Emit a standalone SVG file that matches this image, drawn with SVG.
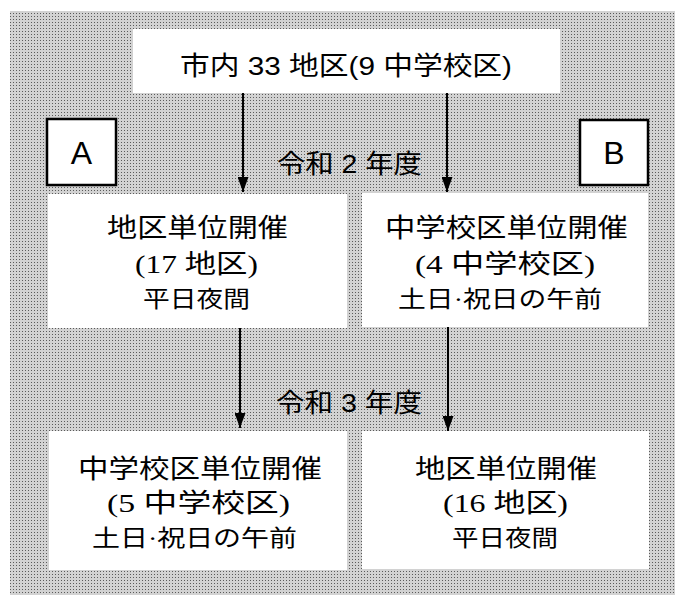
<svg xmlns="http://www.w3.org/2000/svg" width="682" height="603" viewBox="0 0 682 603">
  <style>
    .box { fill: #ffffff; }
    .tag { fill: #ffffff; stroke: #000000; stroke-width: 2.5; }
    .conn { stroke: #000000; stroke-width: 2; fill: none; }
    .t { font-family: "Liberation Sans", "Noto Sans CJK JP", sans-serif; font-size: 26px; fill: #000000; }
    .b1 { font-family: "Liberation Serif", "Noto Sans CJK JP", serif; font-size: 26px; fill: #000000; }
    .b3 { font-family: "Liberation Serif", "Noto Sans CJK JP", serif; font-size: 23px; fill: #000000; }
    .tagt { font-family: "Liberation Sans", Arial, sans-serif; font-size: 32px; fill: #000000; text-anchor: middle; }
  </style>
  <defs>
    <pattern id="stipple" patternUnits="userSpaceOnUse" width="3" height="3">
      <rect width="3" height="3" fill="#d2d2d2"/>
      <rect x="1" y="1" width="1" height="1" fill="#5a5a5a"/>
    </pattern>
    <marker id="arr" markerUnits="userSpaceOnUse" markerWidth="15" markerHeight="11" refX="15" refY="5.5" orient="auto">
      <path d="M0,0 L15,5.5 L0,11 z" fill="#000000"/>
    </marker>
  </defs>

  <rect x="10" y="11" width="665" height="584" fill="url(#stipple)"/>

  <g id="top">
    <rect class="box" x="133" y="29" width="427" height="64"/>
    <text class="t" x="180" y="75" textLength="332" lengthAdjust="spacingAndGlyphs">市内 33 地区(9 中学校区)</text>
  </g>

  <g id="tagA">
    <rect class="tag" x="47" y="119" width="69" height="66"/>
    <text class="tagt" x="81.5" y="164">A</text>
  </g>

  <g id="tagB">
    <rect class="tag" x="580" y="120" width="68" height="65"/>
    <text class="tagt" x="614" y="164">B</text>
  </g>

  <g id="label-r2">
    <text class="t" x="277" y="173" textLength="145" lengthAdjust="spacingAndGlyphs">令和 2 年度</text>
  </g>

  <g id="label-r3">
    <text class="t" x="276" y="412" textLength="146" lengthAdjust="spacingAndGlyphs">令和 3 年度</text>
  </g>

  <g id="r2-left">
    <rect class="box" x="48" y="194" width="299" height="134"/>
    <text class="b1" x="107" y="237" textLength="181" lengthAdjust="spacingAndGlyphs">地区単位開催</text>
    <text class="b1" x="135" y="273" textLength="123" lengthAdjust="spacingAndGlyphs">(17 地区)</text>
    <text class="b3" x="143" y="307" textLength="107" lengthAdjust="spacingAndGlyphs">平日夜間</text>
  </g>

  <g id="r2-right">
    <rect class="box" x="362" y="193" width="286" height="134"/>
    <text class="b1" x="385" y="237" textLength="243" lengthAdjust="spacingAndGlyphs">中学校区単位開催</text>
    <text class="b1" x="415" y="273" textLength="180" lengthAdjust="spacingAndGlyphs">(4 中学校区)</text>
    <text class="b3" x="398" y="307" textLength="204" lengthAdjust="spacingAndGlyphs">土日·祝日の午前</text>
  </g>

  <g id="r3-left">
    <rect class="box" x="49" y="431" width="298" height="139"/>
    <text class="b1" x="78" y="478" textLength="244" lengthAdjust="spacingAndGlyphs">中学校区単位開催</text>
    <text class="b1" x="107" y="512" textLength="183" lengthAdjust="spacingAndGlyphs">(5 中学校区)</text>
    <text class="b3" x="92" y="546" textLength="205" lengthAdjust="spacingAndGlyphs">土日·祝日の午前</text>
  </g>

  <g id="r3-right">
    <rect class="box" x="362" y="431" width="287" height="138"/>
    <text class="b1" x="415" y="478" textLength="182" lengthAdjust="spacingAndGlyphs">地区単位開催</text>
    <text class="b1" x="443" y="512" textLength="125" lengthAdjust="spacingAndGlyphs">(16 地区)</text>
    <text class="b3" x="452" y="546" textLength="106" lengthAdjust="spacingAndGlyphs">平日夜間</text>
  </g>

  <g id="connectors">
    <line class="conn" x1="243" y1="93" x2="243" y2="192" marker-end="url(#arr)"/>
    <line class="conn" x1="447" y1="93" x2="447" y2="192" marker-end="url(#arr)"/>
    <line class="conn" x1="240" y1="328" x2="240" y2="428" marker-end="url(#arr)"/>
    <line class="conn" x1="448" y1="327" x2="448" y2="431" marker-end="url(#arr)"/>
  </g>
</svg>
